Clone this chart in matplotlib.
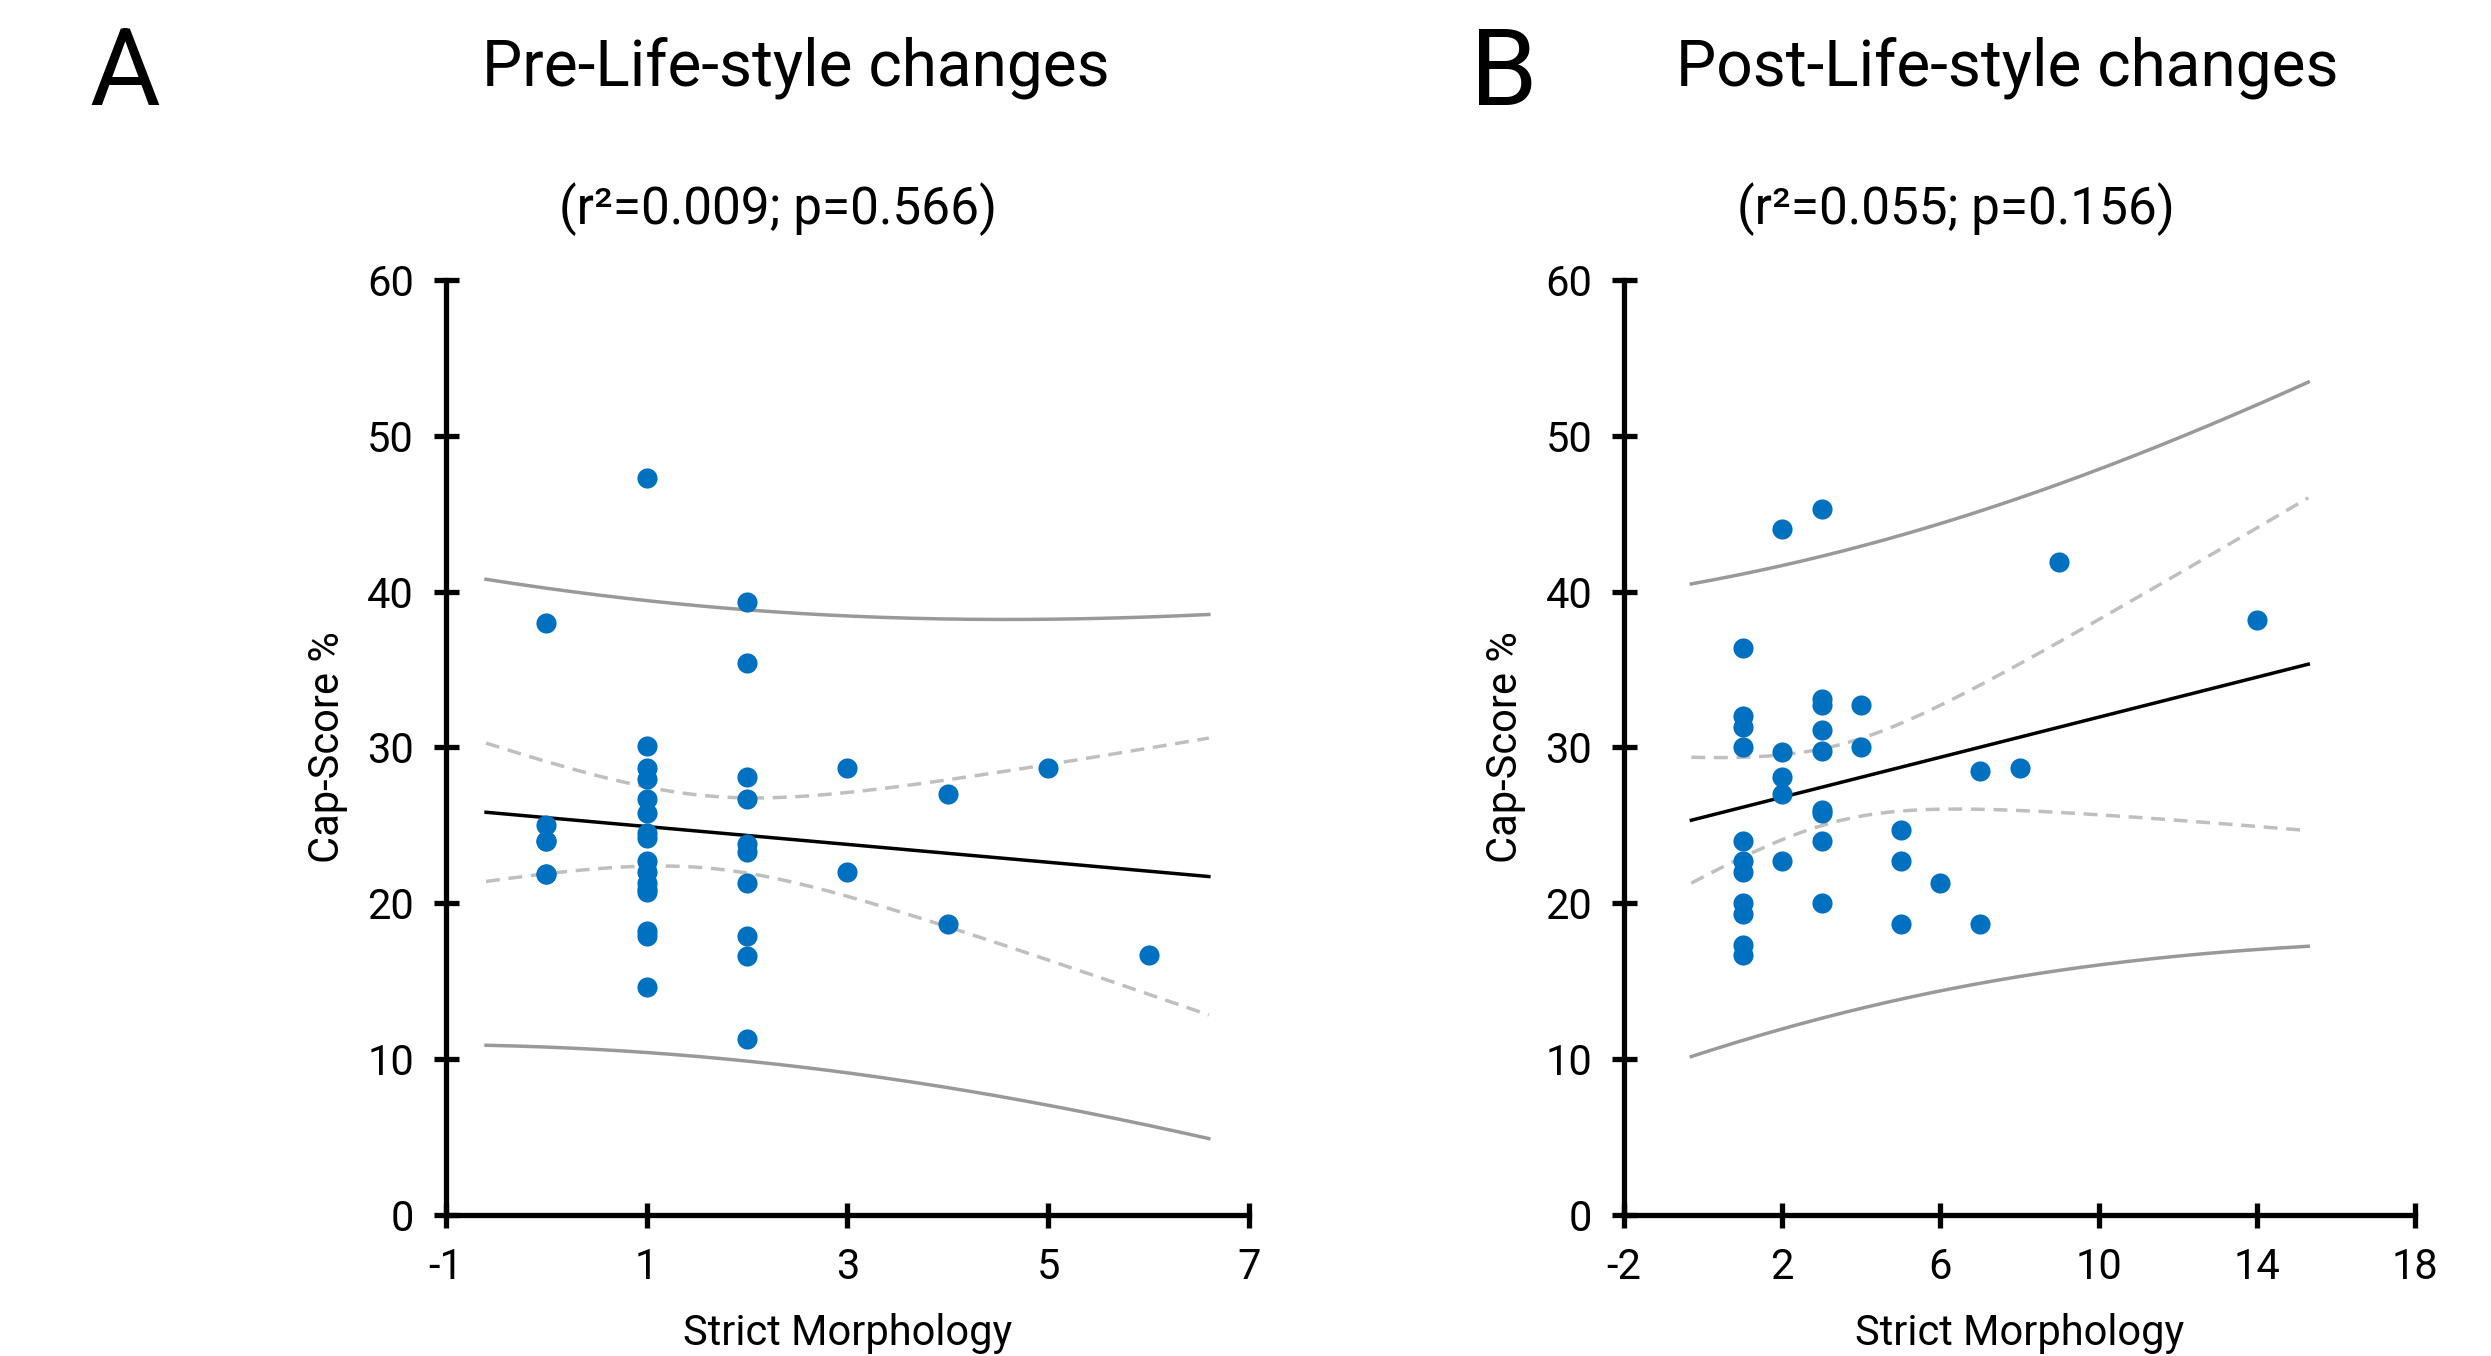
import numpy as np
import matplotlib
matplotlib.use("Agg")
import matplotlib.pyplot as plt

plt.rcParams['font.family'] = ['Roboto', 'DejaVu Sans']
plt.rcParams['axes.unicode_minus'] = False

# panel A - pre life-style changes (some dots overlap)
pre_x = [0, 0, 0, 0, 0, 0,
         1, 1, 1, 1, 1, 1, 1, 1, 1, 1, 1, 1, 1, 1, 1, 1,
         2, 2, 2, 2, 2, 2, 2, 2, 2, 2,
         3, 3, 4, 4, 5, 6]
pre_y = [38.0, 25.0, 24.0, 24.0, 21.9, 21.9,
         47.3, 30.1, 28.7, 28.0, 26.7, 25.8, 24.5, 24.2, 22.7, 22.0, 21.3, 20.9, 20.7, 18.2, 17.9, 14.6,
         39.3, 35.4, 28.1, 26.7, 23.8, 23.3, 21.3, 17.9, 16.6, 11.3,
         28.7, 22.0, 27.0, 18.7, 28.7, 16.7]

# panel B - post life-style changes
post_x = [1, 1, 1, 1, 1, 1, 1, 1, 1, 1, 1,
          2, 2, 2, 2, 2,
          3, 3, 3, 3, 3, 3, 3, 3, 3,
          4, 4, 5, 5, 5, 6, 7, 7, 8, 9, 14]
post_y = [36.4, 32.0, 31.3, 30.0, 24.0, 22.7, 22.0, 20.0, 19.3, 17.3, 16.7,
          44.0, 29.7, 28.1, 27.0, 22.7,
          45.3, 33.1, 32.7, 31.1, 29.8, 26.0, 25.8, 24.0, 20.0,
          32.7, 30.0, 24.7, 22.7, 18.7, 21.3, 28.5, 18.7, 28.7, 41.9, 38.2]

T_CRIT = 2.03  # 95%, df ~ 34

blue = '#0070C0'


def draw_panel(ax, x, y, xlim, xstep):
    x = np.array(x, float)
    y = np.array(y, float)
    n = len(x)
    slope, inter = np.polyfit(x, y, 1)
    resid = y - (inter + slope * x)
    s = np.sqrt(np.sum(resid ** 2) / (n - 2))
    xbar = x.mean()
    sxx = np.sum((x - xbar) ** 2)
    pad = 0.1 * (x.max() - x.min())
    xs = np.linspace(x.min() - pad, x.max() + pad, 200)
    yh = inter + slope * xs
    ci = T_CRIT * s * np.sqrt(1 / n + (xs - xbar) ** 2 / sxx)
    pi = T_CRIT * s * np.sqrt(1 + 1 / n + (xs - xbar) ** 2 / sxx)

    ax.plot(xs, yh + pi, color='#999999', lw=2.5)
    ax.plot(xs, yh - pi, color='#999999', lw=2.5)
    ax.plot(xs, yh + ci, color='#BFBFBF', lw=2.5, ls=(0, (4, 2.5)))
    ax.plot(xs, yh - ci, color='#BFBFBF', lw=2.5, ls=(0, (4, 2.5)))
    ax.plot(xs, yh, color='black', lw=2.5)
    ax.plot(x, y, 'o', color=blue, ms=14.5, mec='none', zorder=5)

    ax.set_xlim(*xlim)
    ax.set_ylim(0, 60)
    ax.set_xticks(np.arange(xlim[0], xlim[1] + 0.1, xstep))
    ax.set_yticks(np.arange(0, 61, 10))
    for sp in ['top', 'right']:
        ax.spines[sp].set_visible(False)
    for sp in ['left', 'bottom']:
        ax.spines[sp].set_linewidth(3.8)
    ax.tick_params(direction='inout', length=18, width=3.8, labelsize=30, pad=14)
    ax.set_xlabel('Strict Morphology', fontsize=30, labelpad=18)
    ax.set_ylabel('Cap-Score %', fontsize=30, labelpad=14)
    ax.patch.set_visible(False)


fig = plt.figure(figsize=(24.91, 13.56), dpi=100)
axA = fig.add_axes([0.179, 0.104, 0.3224, 0.6896])
axB = fig.add_axes([0.652, 0.104, 0.3175, 0.6896])
draw_panel(axA, pre_x, pre_y, (-1, 7), 2)
draw_panel(axB, post_x, post_y, (-2, 18), 4)

fig.text(0.036, 0.944, 'A', fontsize=78, va='center', ha='left')
fig.text(0.590, 0.944, 'B', fontsize=78, va='center', ha='left')
fig.text(0.3195, 0.950, 'Pre-Life-style changes', fontsize=46, ha='center', va='center')
fig.text(0.806, 0.950, 'Post-Life-style changes', fontsize=46, ha='center', va='center')
fig.text(0.3125, 0.846, '(r²=0.009; p=0.566)', fontsize=37, ha='center', va='center')
fig.text(0.785, 0.846, '(r²=0.055; p=0.156)', fontsize=37, ha='center', va='center')

fig.savefig('out.png', dpi=100, facecolor='white')
